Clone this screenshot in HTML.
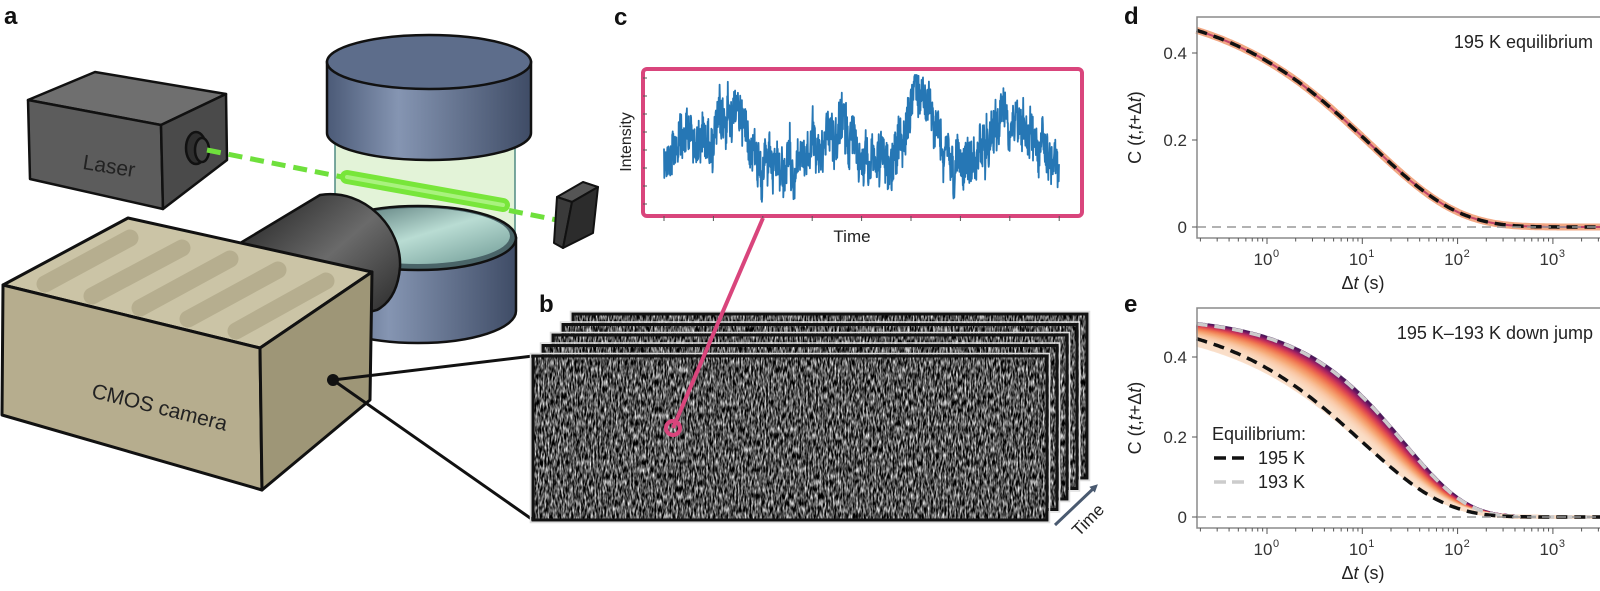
<!DOCTYPE html>
<html><head><meta charset="utf-8">
<style>
html,body{margin:0;padding:0;background:#fff;}
svg{display:block;font-family:"Liberation Sans",sans-serif;}
</style></head>
<body>
<svg id="s" width="1600" height="591" viewBox="0 0 1600 591" xmlns="http://www.w3.org/2000/svg">
<defs>
  <linearGradient id="cyl" x1="0" x2="1" y1="0" y2="0">
    <stop offset="0" stop-color="#4b5a77"/><stop offset="0.35" stop-color="#8595b2"/><stop offset="1" stop-color="#3f4c66"/>
  </linearGradient>
  <linearGradient id="teal" x1="0" x2="1" y1="0" y2="1">
    <stop offset="0" stop-color="#4f6f70"/><stop offset="0.5" stop-color="#b9dcd3"/><stop offset="1" stop-color="#6f9a95"/>
  </linearGradient>
  <linearGradient id="lens" x1="0" x2="1" y1="0" y2="1">
    <stop offset="0" stop-color="#1e1e1e"/><stop offset="0.5" stop-color="#6a6a6a"/><stop offset="1" stop-color="#222"/>
  </linearGradient>
  <filter id="noise" x="0" y="0" width="1" height="1" color-interpolation-filters="sRGB">
    <feTurbulence type="fractalNoise" baseFrequency="0.6 0.15" numOctaves="2" seed="4"/>
    <feColorMatrix type="matrix" values="1.9 0 0 0 -0.62  1.9 0 0 0 -0.62  1.9 0 0 0 -0.62  0 0 0 0 1"/>
  </filter>
  <marker id="arr" markerWidth="8" markerHeight="8" refX="4" refY="4" orient="auto" markerUnits="userSpaceOnUse">
    <path d="M0,0 L8,4 L0,8 Z" fill="#4a5a70"/>
  </marker>
</defs>

<g font-weight="bold" font-size="24" fill="#111">
  <text x="4" y="24">a</text>
  <text x="539" y="312">b</text>
  <text x="614" y="25">c</text>
  <text x="1124" y="24">d</text>
  <text x="1124" y="312">e</text>
</g>

<g stroke="#111" stroke-width="2.5" stroke-linejoin="round">
  <polygon points="28,100 95,72 226,94 161,125" fill="#6f6f6f"/>
  <polygon points="28,100 161,125 163,209 30,179" fill="#5c5c5c"/>
  <polygon points="161,125 226,94 227,160 163,209" fill="#4a4a4a"/>
  <ellipse cx="196" cy="148" rx="10" ry="16" fill="#2e2e2e"/>
  <ellipse cx="202" cy="150" rx="7" ry="12" fill="#444"/>
</g>
<text x="108" y="173" font-size="21" fill="#222" transform="rotate(9 108 173)" text-anchor="middle">Laser</text>

<rect x="335" y="133" width="180" height="105" fill="#e3f3d8"/>
<line x1="335" y1="133" x2="335" y2="238" stroke="#4f8a82" stroke-width="1.5"/>
<line x1="515" y1="133" x2="515" y2="238" stroke="#4f8a82" stroke-width="1.5"/>
<path d="M320,238 L320,311 A98,32 0 0 0 516,311 L516,238 Z" fill="url(#cyl)" stroke="#111" stroke-width="2.5"/>
<ellipse cx="418" cy="238" rx="98" ry="32" fill="#4a6468" stroke="#111" stroke-width="2.5"/>
<ellipse cx="418" cy="236" rx="92" ry="28" fill="url(#teal)"/>
<line x1="207" y1="150" x2="557" y2="220" stroke="#6fe03c" stroke-width="5" stroke-dasharray="14 8"/>
<line x1="347" y1="177" x2="503" y2="205" stroke="#78e63a" stroke-width="14" stroke-linecap="round"/>
<line x1="347" y1="177" x2="503" y2="205" stroke="#a9f27e" stroke-width="4" stroke-linecap="round"/>
<path d="M327,62 L327,133 A102,27 0 0 0 531,133 L531,62 Z" fill="url(#cyl)" stroke="#111" stroke-width="2.5"/>
<ellipse cx="429" cy="62" rx="102" ry="27" fill="#5d6d8b" stroke="#111" stroke-width="2.5"/>
<g stroke="#111" stroke-width="2" stroke-linejoin="round">
  <polygon points="557,197 583,182 598,187 572,202" fill="#555"/>
  <polygon points="557,197 572,202 563,248 554,243" fill="#3a3a3a"/>
  <polygon points="572,202 598,187 593,233 563,248" fill="#2c2c2c"/>
</g>
<path d="M242,242 L320,195 C365,188 402,228 400,267 C398,292 388,304 377,310 L300,330 Z" fill="url(#lens)" stroke="#111" stroke-width="2.5"/>
<polygon points="3,285 128,218 372,272 260,348" fill="#cbc4a6"/>
<g stroke="#b6ae8f" stroke-width="17" stroke-linecap="round">
  <line x1="45" y1="284" x2="130" y2="238"/>
  <line x1="92" y1="296" x2="182" y2="248"/>
  <line x1="140" y1="308" x2="230" y2="259"/>
  <line x1="188" y1="319" x2="278" y2="270"/>
  <line x1="236" y1="331" x2="326" y2="281"/>
</g>
<g stroke="#111" stroke-width="3" stroke-linejoin="round">
  <polygon points="3,285 128,218 372,272 260,348" fill="none"/>
  <polygon points="3,285 260,348 262,490 2,415" fill="#b6ad8e"/>
  <polygon points="260,348 372,272 370,400 262,490" fill="#9e9677"/>
</g>
<text x="158" y="414" font-size="21" fill="#222" text-anchor="middle" transform="rotate(14 158 414)">CMOS camera</text>
<circle cx="333" cy="380" r="6" fill="#111"/>
<line x1="333" y1="380" x2="533" y2="356" stroke="#111" stroke-width="3"/>
<line x1="333" y1="380" x2="533" y2="520" stroke="#111" stroke-width="3"/>

<g id="frames"></g>
<line x1="1055" y1="525" x2="1095" y2="487" stroke="#4a5a70" stroke-width="3" marker-end="url(#arr)"/>
<text x="1092" y="524" font-size="17" fill="#222" text-anchor="middle" transform="rotate(-45 1092 524)">Time</text>

<rect x="643" y="69" width="439" height="147" rx="4" fill="#fff" stroke="#d9457c" stroke-width="4"/>
<g id="cticks" stroke="#555" stroke-width="1"></g>
<path id="trace" fill="none" stroke="#2677b5" stroke-width="1.8" stroke-linejoin="round"/>
<text x="852" y="242" font-size="17" fill="#222" text-anchor="middle">Time</text>
<text x="631" y="142" font-size="16" fill="#222" text-anchor="middle" transform="rotate(-90 631 142)">Intensity</text>
<line x1="673" y1="428" x2="763" y2="218" stroke="#d9457c" stroke-width="4"/>
<circle cx="673" cy="428" r="7" fill="none" stroke="#d9457c" stroke-width="4"/>

<g id="pd"></g>
<g id="pe"></g>
</svg>

<script>
(function(){
var NS="http://www.w3.org/2000/svg";
function el(tag,attrs,parent,txt){var e=document.createElementNS(NS,tag);for(var k in attrs)e.setAttribute(k,attrs[k]);if(txt!==undefined)e.textContent=txt;parent.appendChild(e);return e;}
var seed=12345;function rnd(){seed=(seed*1103515245+12345)%2147483648;return seed/2147483648;}

var fg=document.getElementById("frames");
for(var i=4;i>=0;i--){
  var x=533+10*i,y=356-10.5*i;
  el("rect",{x:x,y:y,width:514,height:164,fill:"#fff"},fg);
  el("rect",{x:x+1,y:y+1,width:512,height:162,filter:"url(#noise)"},fg);
  el("rect",{x:x,y:y,width:514,height:164,fill:"none",stroke:"#111","stroke-width":3},fg);
  el("rect",{x:x-2.5,y:y-2.5,width:519,height:169,fill:"none",stroke:"#ddd","stroke-width":1.5},fg);
}

var ct=document.getElementById("cticks");
for(var k=0;k<9;k++){var tx=664+49.4*k;el("line",{x1:tx,y1:216,x2:tx,y2:221},ct);}
for(var k=0;k<8;k++){var ty=78+18*k;el("line",{x1:643,y1:ty,x2:647,y2:ty},ct);}

var bumps=[[690,-20,15],[735,-50,14],[775,18,14],[842,-25,20],[880,10,14],[920,-68,12],[960,10,14],[1010,-50,18],[1045,-5,10]];
var d="",ar=0;
for(var j=0;j<=1400;j++){
  var x=664+395*j/1400;var b=158;
  for(var q=0;q<bumps.length;q++){var dx=(x-bumps[q][0])/bumps[q][2];b+=bumps[q][1]*Math.exp(-dx*dx/2);}
  ar=0.85*ar+(rnd()-0.5)*18;
  var y=b+ar+(rnd()-0.5)*40;
  y=Math.max(75,Math.min(210,y));
  d+=(j?"L":"M")+x.toFixed(1)+","+y.toFixed(1);
}
document.getElementById("trace").setAttribute("d",d);

function X(t){return 1267+95.3*Math.log(t)/Math.LN10;}
function curve(A,beta,tau,Y){var s="";for(var j=0;j<=200;j++){var lt=-0.74+j*(3.52+0.74)/200;var t=Math.pow(10,lt);var c=A*Math.exp(-Math.pow(t/tau,beta));s+=(j?"L":"M")+X(t).toFixed(1)+","+Y(c).toFixed(1);}return s;}
function axes(g,top,bot,y0,scale,title){
  var Y=function(c){return y0-c*scale;};
  el("line",{x1:1197,y1:y0,x2:1600,y2:y0,stroke:"#999","stroke-width":1.5,"stroke-dasharray":"9 6"},g);
  el("rect",{x:1197,y:top,width:420,height:bot-top,fill:"none",stroke:"#8a8a8a","stroke-width":1.5},g);
  [0,0.2,0.4].forEach(function(v){var yy=Y(v);el("line",{x1:1192,y1:yy,x2:1197,y2:yy,stroke:"#555"},g);
    el("text",{x:1187,y:yy+6,"font-size":17,fill:"#333","text-anchor":"end"},g,v===0?"0":String(v));});
  for(var dec=-1;dec<=3;dec++){for(var m=1;m<10;m++){var t=m*Math.pow(10,dec);var xx=X(t);if(xx<1198||xx>1600)continue;
    el("line",{x1:xx,y1:bot,x2:xx,y2:bot+(m==1?6:3.5),stroke:"#555","stroke-width":1},g);}}
  for(var e=0;e<=3;e++){var xx=X(Math.pow(10,e));el("text",{x:xx-4,y:bot+27,"font-size":17,fill:"#333","text-anchor":"middle"},g,"10");
    el("text",{x:xx+6,y:bot+19,"font-size":11,fill:"#333"},g,String(e));}
  var lab=el("text",{x:1268+95,y:bot+51,"font-size":18,fill:"#222","text-anchor":"middle"},g);
  ["Δ","t"," (s)"].forEach(function(s){var sp=document.createElementNS(NS,"tspan");if(s==="t")sp.setAttribute("font-style","italic");sp.textContent=s;lab.appendChild(sp);});
  var cy=(top+bot)/2;
  var yl=el("text",{x:1141,y:cy,"font-size":18,fill:"#222","text-anchor":"middle",transform:"rotate(-90 1141 "+cy+")"},g);
  ["C (","t",",","t","+Δ","t",")"].forEach(function(s){var sp=document.createElementNS(NS,"tspan");if(s==="t")sp.setAttribute("font-style","italic");sp.textContent=s;yl.appendChild(sp);});
  el("text",{x:1593,y:top+31,"font-size":18,fill:"#222","text-anchor":"end"},g,title);
  return Y;
}
var gd=document.getElementById("pd");
var Yd=function(c){return 227-c*435;};
var dc=curve(0.52,0.47,12,Yd);
el("path",{d:dc,fill:"none",stroke:"#f2a884","stroke-width":7},gd);
el("path",{d:dc,fill:"none",stroke:"#c0446a","stroke-width":2},gd);
el("path",{d:dc,fill:"none",stroke:"#111","stroke-width":3.5,"stroke-dasharray":"11 7"},gd);
axes(gd,17,238,227,435,"195 K equilibrium");

var ge=document.getElementById("pe");
var Ye=function(c){return 517-c*400;};
var cols=[[250,222,200],[246,170,120],[240,120,80],[222,70,80],[176,38,96],[110,24,100],[60,15,80]];
function colAt(f){var p=f*(cols.length-1),i=Math.min(cols.length-2,Math.floor(p)),r=p-i;var a=cols[i],b=cols[i+1];return "rgb("+[0,1,2].map(function(k){return Math.round(a[k]+(b[k]-a[k])*r);}).join(",")+")";}
var N=40;
for(var i=N-1;i>=0;i--){var f=i/(N-1);
  var A=0.49+0.01*f,beta=0.5+0.166*f,tau=11*Math.pow(27.5/11,f);
  el("path",{d:curve(A,beta,tau,Ye),fill:"none",stroke:colAt(Math.pow(f,2.2)),"stroke-width":4,opacity:0.9},ge);}
el("path",{d:curve(0.5,0.666,27.5,Ye),fill:"none",stroke:"#ccc","stroke-width":3.5,"stroke-dasharray":"11 7"},ge);
el("path",{d:curve(0.51,0.5,10,Ye),fill:"none",stroke:"#111","stroke-width":3.5,"stroke-dasharray":"11 7"},ge);
axes(ge,308,528,517,400,"195 K–193 K down jump");
el("text",{x:1212,y:440,"font-size":18,fill:"#222"},ge,"Equilibrium:");
el("line",{x1:1214,y1:458,x2:1248,y2:458,stroke:"#111","stroke-width":3.5,"stroke-dasharray":"12 6"},ge);
el("text",{x:1258,y:464,"font-size":18,fill:"#222"},ge,"195 K");
el("line",{x1:1214,y1:482,x2:1248,y2:482,stroke:"#ccc","stroke-width":3.5,"stroke-dasharray":"12 6"},ge);
el("text",{x:1258,y:488,"font-size":18,fill:"#222"},ge,"193 K");
})();
</script>
</body></html>
